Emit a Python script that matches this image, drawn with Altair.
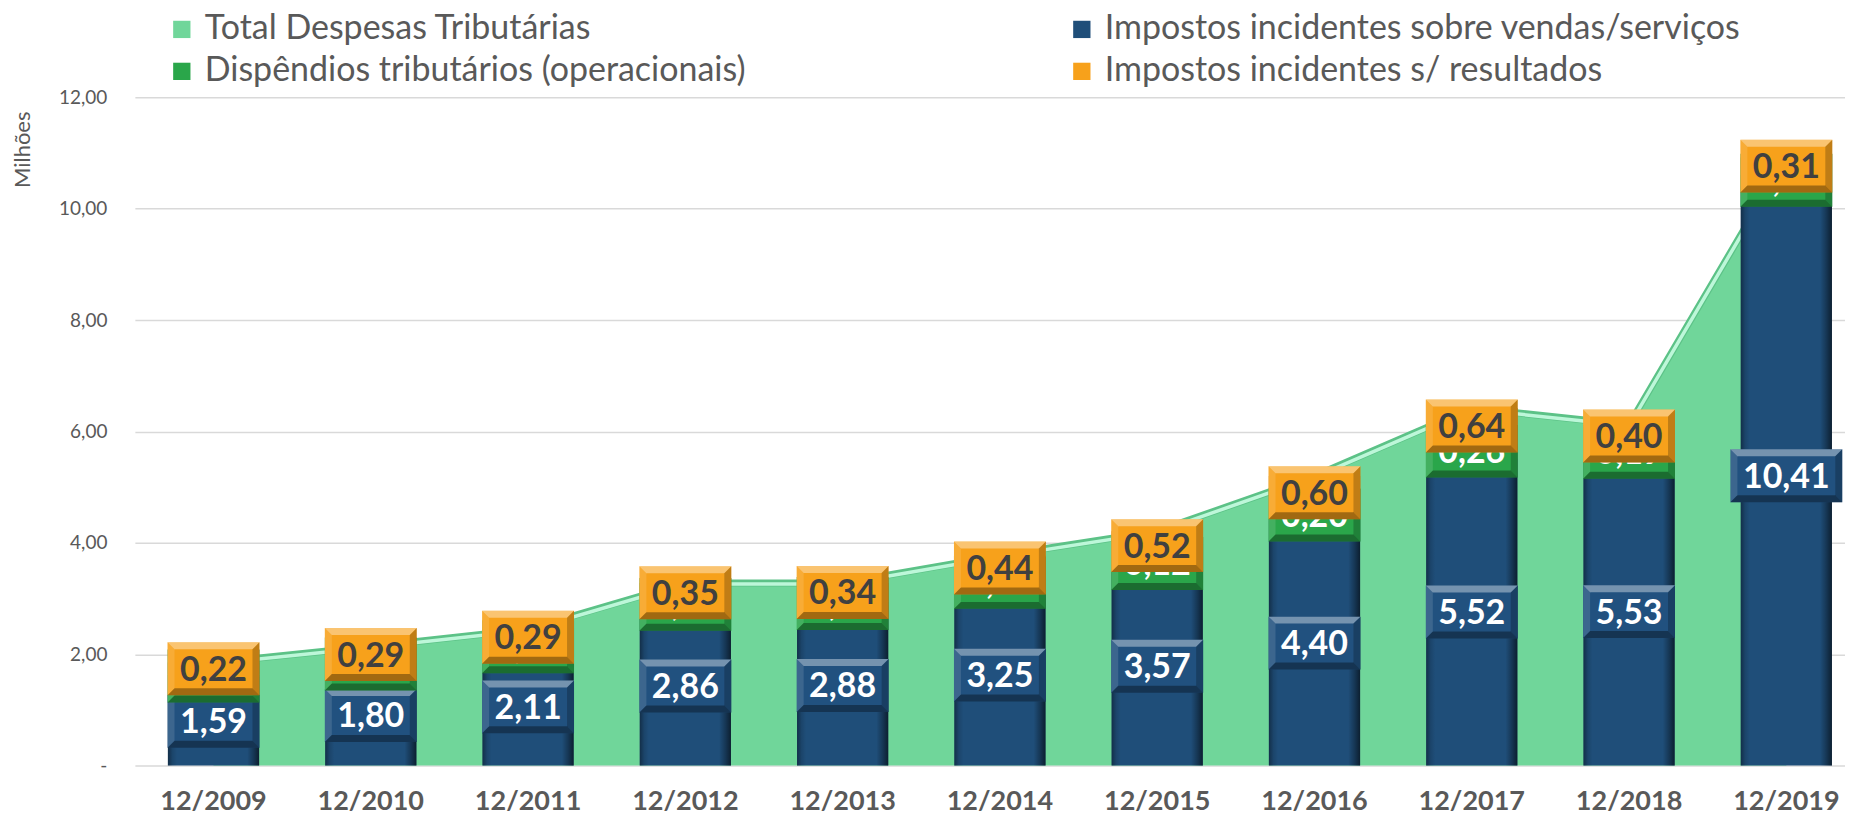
import altair as alt
import pandas as pd

# ---------------- data ----------------
anos = ["12/2009", "12/2010", "12/2011", "12/2012", "12/2013", "12/2014",
        "12/2015", "12/2016", "12/2017", "12/2018", "12/2019"]
vendas = [1.59, 1.80, 2.11, 2.86, 2.88, 3.25, 3.57, 4.40, 5.52, 5.53, 10.41]
dispendios = [0.04, 0.05, 0.05, 0.07, 0.06, 0.08, 0.12, 0.20, 0.26, 0.19, 0.20]
resultados = [0.22, 0.29, 0.29, 0.35, 0.34, 0.44, 0.52, 0.60, 0.64, 0.40, 0.31]
total = [1.85, 2.14, 2.45, 3.28, 3.28, 3.77, 4.21, 5.20, 6.42, 6.12, 10.92]

S_TOTAL = "Total Despesas Tributárias"
S_VEND = "Impostos incidentes sobre vendas/serviços"
S_DISP = "Dispêndios tributários (operacionais)"
S_RES = "Impostos incidentes s/ resultados"

# legend order (column-major: Total, Dispêndios | Vendas, Resultados)
series_names = [S_TOTAL, S_DISP, S_VEND, S_RES]
series_colors = ["#70D69A", "#2AA64A", "#1F4E79", "#F7A11B"]
y_ticks = [0, 2, 4, 6, 8, 10, 12]

rows = []
for i, a in enumerate(anos):
    for k, (nome, vals) in enumerate([(S_VEND, vendas), (S_DISP, dispendios), (S_RES, resultados)]):
        rows.append({"ano": a, "serie": nome, "valor": vals[i], "ordem": k})
bars_df = pd.DataFrame(rows)
total_df = pd.DataFrame({"ano": anos, "valor": total, "serie": [S_TOTAL] * len(anos)})

# ---------------- styling ----------------
FONT = "Lato"
GREY = "#595959"

xscale = alt.Scale(paddingInner=0.42, paddingOuter=0.21, range=[4, 1736])
xaxis = alt.Axis(labelFont=FONT, labelFontSize=27, labelFontWeight="bold", labelColor=GREY,
                 labelBaseline="middle", labelPadding=36, ticks=False, tickSize=0,
                 domain=False, grid=False, labelAngle=0)
yscale = alt.Scale(domain=[0, 12], nice=False, zero=True)
yaxis = alt.Axis(values=y_ticks,
                 labelExpr="datum.value == 0 ? '-' : replace(format(datum.value, '.2f'), '.', ',')",
                 labelFont=FONT, labelFontSize=19, labelColor=GREY, labelPadding=24,
                 ticks=False, tickSize=0, domain=False,
                 grid=True, gridColor="#D9D9D9", gridWidth=1.5,
                 titleFont=FONT, titleFontSize=22, titleFontWeight="normal", titleColor=GREY,
                 titleAngle=-90, titleX=-108, titleY=52, titleAlign="center", titleBaseline="middle")


def X():
    return alt.X("ano:N", sort=anos, scale=xscale, axis=xaxis, title=None)


def Y(field):
    return alt.Y(f"{field}:Q", scale=yscale, axis=yaxis, title="Milhões")


color_scale = alt.Scale(domain=series_names, range=series_colors)
legend = alt.Legend(orient="none", legendX=34, legendY=-85, columns=2, columnPadding=319,
                    rowPadding=8, title=None, labelFont=FONT, labelFontSize=34,
                    labelColor=GREY, labelLimit=0, symbolType="square", symbolSize=300,
                    symbolStrokeWidth=0, labelOffset=6, symbolOpacity=1)

# ---------------- area (total) ----------------
area = alt.Chart(total_df).mark_area(interpolate="linear", opacity=1).encode(
    x=X(), y=Y("valor"),
    color=alt.Color("serie:N", scale=color_scale, legend=legend)
)
area_edge = alt.Chart(total_df).mark_line(interpolate="linear", stroke="#5CC287",
                                          strokeWidth=7).encode(x=X(), y=Y("valor"))
area_hl = alt.Chart(total_df).mark_line(interpolate="linear", stroke="#BDF7D9",
                                        strokeWidth=3.5, yOffset=1).encode(x=X(), y=Y("valor"))

# ---------------- stacked bars ----------------
base = alt.Chart(bars_df).transform_stack(
    stack="valor", groupby=["ano"], as_=["y0", "y1"],
    sort=[alt.SortField("ordem", order="ascending")]
).transform_calculate(
    ymid="(datum.y0 + datum.y1) / 2",
    lbl="replace(format(datum.valor, '.2f'), '.', ',')"
)

bars = base.mark_bar().encode(
    x=X(), y=Y("y0"), y2="y1:Q",
    color=alt.Color("serie:N", scale=color_scale, legend=legend)
)

bar_grad = alt.Gradient(
    gradient="linear", x1=0, x2=1, y1=0, y2=0,
    stops=[alt.GradientStop(offset=0, color="rgba(0,0,0,0.40)"),
           alt.GradientStop(offset=0.05, color="rgba(0,0,0,0.12)"),
           alt.GradientStop(offset=0.10, color="rgba(0,0,0,0)"),
           alt.GradientStop(offset=0.87, color="rgba(0,0,0,0)"),
           alt.GradientStop(offset=0.94, color="rgba(0,0,0,0.30)"),
           alt.GradientStop(offset=1, color="rgba(0,0,0,0.60)")]
)
bar_shade = base.mark_bar(fill=bar_grad).encode(x=X(), y=Y("y0"), y2="y1:Q")


# ---------------- bevelled label boxes ----------------
def box_paths(w, h=53.0, bev=7.0):
    """Custom symbol paths (unit = w/2 px) for a bevelled box w x h pixels."""
    r = w / 2.0
    hy = h / 2.0 / r
    ix = 1 - bev / r
    iy = hy - bev / r
    face = f"M-1,{-hy}L1,{-hy}L1,{hy}L-1,{hy}Z"
    bevels = [
        (f"M-1,{-hy}L1,{-hy}L{ix},{-iy}L{-ix},{-iy}Z", "rgba(255,255,255,0.38)"),
        (f"M-1,{-hy}L{-ix},{-iy}L{-ix},{iy}L-1,{hy}Z", "rgba(255,255,255,0.12)"),
        (f"M1,{-hy}L{ix},{-iy}L{ix},{iy}L1,{hy}Z", "rgba(0,0,0,0.22)"),
        (f"M-1,{hy}L1,{hy}L{ix},{iy}L{-ix},{iy}Z", "rgba(0,0,0,0.35)"),
    ]
    return face, bevels, w * w


box_style = {
    S_VEND: ("#21517F", "#FFFFFF"),
    S_DISP: ("#2AA64A", "#FFFFFF"),
    S_RES: ("#F7A11B", "#404040"),
}

label_layers = []
for nome in [S_VEND, S_DISP, S_RES]:
    face_col, txt_col = box_style[nome]
    sub = base.transform_filter(alt.datum.serie == nome)
    for cond, w in [("length(datum.lbl) <= 4", 92.0), ("length(datum.lbl) > 4", 112.0)]:
        grp = sub.transform_filter(cond)
        face, bevels, size = box_paths(w)
        label_layers.append(
            grp.mark_point(shape=face, size=size, filled=True, fill=face_col, opacity=1,
                           strokeWidth=0).encode(x=X(), y=Y("ymid"))
        )
        for path, col in bevels:
            label_layers.append(
                grp.mark_point(shape=path, size=size, filled=True, fill=col, opacity=1,
                               strokeWidth=0).encode(x=X(), y=Y("ymid"))
            )
    label_layers.append(
        sub.mark_text(font=FONT, fontSize=34, fontWeight="bold", color=txt_col,
                      baseline="middle", align="center", dy=2).encode(
            x=X(), y=Y("ymid"), text="lbl:N")
    )

chart = alt.layer(area, area_edge, area_hl, bars, bar_shade, *label_layers).properties(
    width=1716, height=669,
    autosize=alt.AutoSizeParams(type="none"),
    padding={"left": 123, "top": 89, "right": 0, "bottom": 50},
    background="white",
).configure_view(stroke=None).configure_axisY(
    labelFont=FONT, labelFontSize=19, labelColor=GREY,
    titleFont=FONT, titleFontSize=22, titleFontWeight="normal", titleColor=GREY
)

chart.save("out.html", embed_options={"renderer": "svg", "actions": False})
